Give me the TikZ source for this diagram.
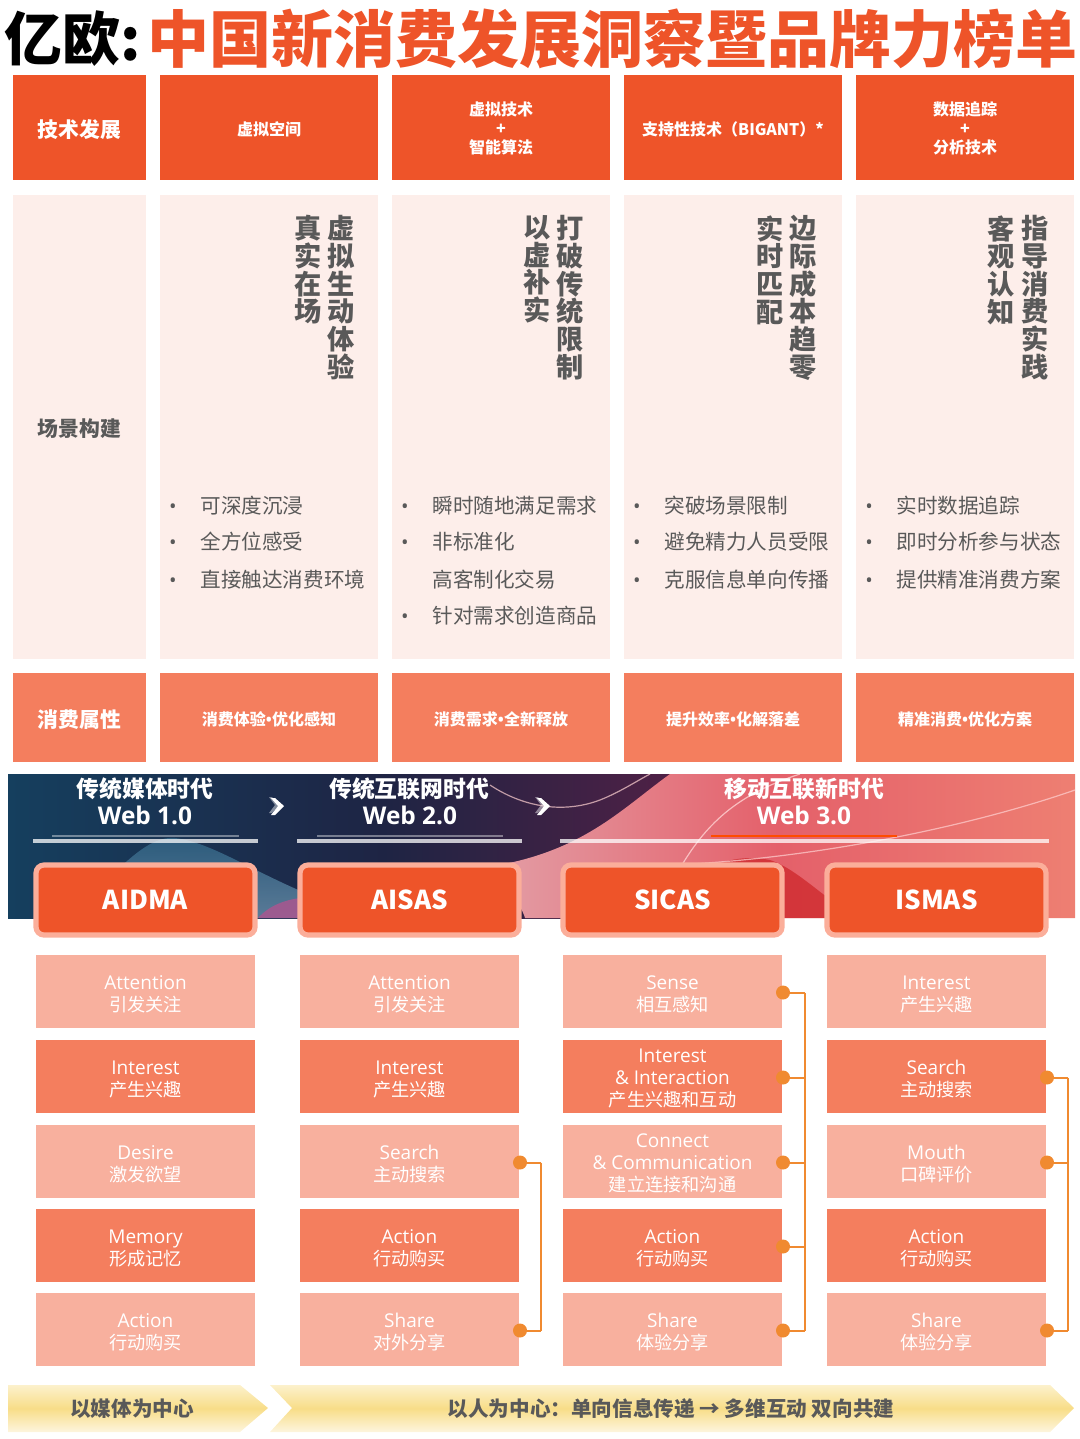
\documentclass[tikz,border=0pt]{standalone}
\usepackage{fontspec}
\setmainfont{Noto Sans CJK SC}
\newfontfamily\latf{Open Sans}
\usetikzlibrary{calc}
\definecolor{hdr}{HTML}{EE5429}
\definecolor{pale}{HTML}{FDEEEA}
\definecolor{midc}{HTML}{F47E5E}
\definecolor{lite}{HTML}{F8B09E}
\definecolor{halo}{HTML}{FBAE9A}
\definecolor{grayt}{HTML}{595959}
\definecolor{conn}{HTML}{F08A30}
\definecolor{navy}{HTML}{153F5E}
\definecolor{inky}{HTML}{1E2444}
\definecolor{plum}{HTML}{5E1F45}
\definecolor{rosea}{HTML}{E3A0A8}
\definecolor{roseb}{HTML}{E4606A}
\definecolor{rosec}{HTML}{EE7F72}
\definecolor{hilla}{HTML}{2F6485}
\definecolor{hillb}{HTML}{6A8FAB}
\definecolor{hillc}{HTML}{A9568F}
\definecolor{ribt}{HTML}{FCF1CC}
\definecolor{ribm}{HTML}{F8DD88}
\definecolor{ribb}{HTML}{FDF5DE}
\newcommand{\fsz}[1]{\fontsize{#1}{#1}\selectfont}
\newcommand{\stk}[2]{\fontsize{#1}{#2}\selectfont}
\newcommand{\dnb}{\rule{0pt}{10.7pt}}
\newcommand{\dns}{\rule{0pt}{8.5pt}}
\newcommand{\mdot}{{\latf •}}
\tikzset{
  x=0.5pt,y=-0.5pt,
  cell/.style={inner sep=0,outer sep=0,text=white,align=center,anchor=north west},
  hdrbox/.style={cell,fill=hdr,font=\bfseries\stk{8}{9.6}},
  hdrbig/.style={hdrbox,font=\bfseries\fsz{10.4}},
  palebox/.style={cell,fill=pale,text=grayt,font=\bfseries\fsz{10.4}},
  midbox/.style={cell,fill=midc,font=\bfseries\fsz{8}},
  midbig/.style={midbox,font=\bfseries\fsz{10.4}},
  vtxt/.style={inner sep=0,text=grayt,anchor=north,align=center,font=\bfseries\stk{13.6}{13.85}},
  bul/.style={inner sep=0,anchor=west,text=grayt,font=\fsz{10.3}},
  bulc/.style={inner sep=0,anchor=center,text=grayt,font=\latf\fsz{10},yshift=-1.4pt},
  era/.style={inner sep=0,text=white,font=\bfseries\fsz{11.4}},
  web/.style={inner sep=0,text=white,font=\bfseries\latf\fsz{12.2}},
  model/.style={cell,fill=hdr,rounded corners=4pt,draw=halo,line width=2.6pt,font=\bfseries\fsz{13}},
  stepl/.style={cell,fill=lite,font=\stk{9.1}{11}},
  stepd/.style={cell,fill=midc,font=\stk{9.1}{11}},
  dot/.style={circle,fill=conn,inner sep=0,minimum size=7pt},
  link/.style={draw=conn,line width=1pt},
  ribbon/.style={top color=ribt,bottom color=ribb,middle color=ribm},
  chevt/.style={inner sep=0,text=grayt,font=\bfseries\fsz{10.3}},
}
\newcommand{\bx}[7]{\node[#1,minimum width=#4*0.5pt,minimum height=#5*0.5pt] (#2) at (#6,#7) {#3};}
\newcommand{\lat}[1]{{\latf\fontsize{9.5}{11}\selectfont #1}}
\newcommand{\sta}[2]{\rule{0pt}{9.7pt}\lat{#1}\\#2}
\newcommand{\stb}[3]{\rule{0pt}{9pt}\lat{#1}\\\lat{#2}\\#3}
\begin{document}
\begin{tikzpicture}
\useasboundingbox (0,0) rectangle (1080,1439);
% title
\node[inner sep=0,anchor=west,text=black,font=\bfseries\fsz{29}] (t1) at (4,39) {亿欧:};
\node[inner sep=0,anchor=east,text=hdr,font=\bfseries\fsz{31}] (t2) at (1078,39) {中国新消费发展洞察暨品牌力榜单};
% table row 1
\bx{hdrbig}{a0}{\dnb 技术发展}{133}{105}{13}{75}
\bx{hdrbox}{a1}{\dns 虚拟空间}{218}{105}{160}{75}
\bx{hdrbox}{a2}{\rule{0pt}{8pt}虚拟技术\\+\\智能算法}{218}{105}{392}{75}
\bx{hdrbox}{a3}{\dns 支持性技术（BIGANT）*}{218}{105}{624}{75}
\bx{hdrbox}{a4}{\rule{0pt}{8pt}数据追踪\\+\\分析技术}{218}{105}{856}{75}
% row 2
\bx{palebox}{b0}{\dnb 场景构建}{133}{464}{13}{195}
\fill[pale] (160,195) rectangle (378,659);
\fill[pale] (392,195) rectangle (610,659);
\fill[pale] (624,195) rectangle (842,659);
\fill[pale] (856,195) rectangle (1074,659);
\node[vtxt] (v1a) at (341,215) {虚\\拟\\生\\动\\体\\验};
\node[vtxt] (v1b) at (308,215) {真\\实\\在\\场};
\node[vtxt] (v2a) at (570,215) {打\\破\\传\\统\\限\\制};
\node[vtxt] (v2b) at (537,215) {以\\虚\\补\\实};
\node[vtxt] (v3a) at (803,215) {边\\际\\成\\本\\趋\\零};
\node[vtxt] (v3b) at (770,215) {实\\时\\匹\\配};
\node[vtxt] (v4a) at (1035,215) {指\\导\\消\\费\\实\\践};
\node[vtxt] (v4b) at (1001,215) {客\\观\\认\\知};
\foreach \bxx/\txx/\nm/\aa/\bb/\cc in {173/200/p/可深度沉浸/全方位感受/直接触达消费环境,405/432/q/瞬时随地满足需求/非标准化/高客制化交易,637/664/r/突破场景限制/避免精力人员受限/克服信息单向传播,869/896/s/实时数据追踪/即时分析参与状态/提供精准消费方案}{
  \node[bul] (\nm t1) at (\txx,506) {\aa};
  \node[bul] (\nm t2) at (\txx,542) {\bb};
  \node[bul] (\nm t3) at (\txx,580) {\cc};
  \node[bulc] (\nm b1) at (\bxx,506) {•};
  \node[bulc] (\nm b2) at (\bxx,542) {•};
}
\node[bulc] (pb3) at (173,580) {•};
\node[bulc] (rb3) at (637,580) {•};
\node[bulc] (sb3) at (869,580) {•};
\node[bul] (qt4) at (432,616) {针对需求创造商品};
\node[bulc] (qb4) at (405,616) {•};
% row 3
\bx{midbig}{c0}{\dnb 消费属性}{133}{89}{13}{673}
\bx{midbox}{c1}{\dns 消费体验\mdot{}优化感知}{218}{89}{160}{673}
\bx{midbox}{c2}{\dns 消费需求\mdot{}全新释放}{218}{89}{392}{673}
\bx{midbox}{c3}{\dns 提升效率\mdot{}化解落差}{218}{89}{624}{673}
\bx{midbox}{c4}{\dns 精准消费\mdot{}优化方案}{218}{89}{856}{673}
% banner
\begin{scope}
\clip (8,774) rectangle (1075,918);
\shade[left color=navy,right color=plum,middle color=inky] (8,774) rectangle (760,918);
\shade[top color=hilla,bottom color=hillb,opacity=.8] (60,918) .. controls (110,885) and (140,835) .. (175,838) .. controls (210,842) and (250,870) .. (310,895) -- (310,918) -- cycle;
\fill[hillc,opacity=.85] (258,918) .. controls (270,905) and (285,900) .. (300,898) -- (310,918) -- cycle;
\shade[left color=rosea,right color=rosec,middle color=roseb] (670,774) .. controls (620,810) and (580,855) .. (480,868) .. controls (500,885) and (520,900) .. (525,918) -- (1075,918) -- (1075,774) -- cycle;
\fill[red!75!black,opacity=.45] (650,918) .. controls (680,880) and (720,850) .. (770,860) .. controls (800,870) and (830,905) .. (860,918) -- cycle;
\draw[pink!70!white,line width=.6pt,opacity=.7] (490,785) .. controls (520,805) and (560,815) .. (600,800) .. controls (620,792) and (635,782) .. (650,774);
\draw[pink!70!white,line width=.6pt,opacity=.8] (655,918) .. controls (690,840) and (720,800) .. (800,774);
\draw[pink!70!white,line width=.6pt,opacity=.7] (670,865) .. controls (800,860) and (960,830) .. (1075,790);
\end{scope}
\node[era] (e1) at (145,789) {传统媒体时代};
\node[web] (w1) at (145,815) {Web 1.0};
\node[era] (e2) at (409,789) {传统互联网时代};
\node[web] (w2) at (410,815) {Web 2.0};
\node[era] (e3) at (804,789) {移动互联新时代};
\node[web] (w3) at (804,815) {Web 3.0};
\draw[white,opacity=.4,line width=.8pt] (52,836) -- (239,836);
\draw[white,opacity=.4,line width=.8pt] (317,836) -- (503,836);
\draw[orange!60!red,line width=.8pt] (711,836) -- (897,836);
\draw[white,opacity=.75,line width=1.6pt] (33,841) -- (258,841);
\draw[white,opacity=.75,line width=1.6pt] (297,841) -- (522,841);
\draw[white,opacity=.75,line width=1.6pt] (560,841) -- (1049,841);
\foreach \cx in {276,542}{
  \fill[white,opacity=.45] (\cx-7,797) -- (\cx-1,805) -- (\cx-7,813) -- (\cx-4,813) -- (\cx+3,805) -- (\cx-4,797) -- cycle;
  \fill[white] (\cx-5,798) -- (\cx+2,806) -- (\cx-5,815) -- (\cx-1,815) -- (\cx+8,806) -- (\cx-1,798) -- cycle;
}
\bx{model}{m1}{AIDMA}{219}{70}{36}{865}
\bx{model}{m2}{AISAS}{219}{70}{300}{865}
\bx{model}{m3}{SICAS}{219}{70}{563}{865}
\bx{model}{m4}{ISMAS}{219}{70}{827}{865}
% steps
\bx{stepl}{s11}{\sta{Attention}{引发关注}}{219}{73}{36}{955}
\bx{stepd}{s12}{\sta{Interest}{产生兴趣}}{219}{73}{36}{1040}
\bx{stepl}{s13}{\sta{Desire}{激发欲望}}{219}{73}{36}{1125}
\bx{stepd}{s14}{\sta{Memory}{形成记忆}}{219}{73}{36}{1209}
\bx{stepl}{s15}{\sta{Action}{行动购买}}{219}{73}{36}{1293}
\bx{stepl}{s21}{\sta{Attention}{引发关注}}{219}{73}{300}{955}
\bx{stepd}{s22}{\sta{Interest}{产生兴趣}}{219}{73}{300}{1040}
\bx{stepl}{s23}{\sta{Search}{主动搜索}}{219}{73}{300}{1125}
\bx{stepd}{s24}{\sta{Action}{行动购买}}{219}{73}{300}{1209}
\bx{stepl}{s25}{\sta{Share}{对外分享}}{219}{73}{300}{1293}
\bx{stepl}{s31}{\sta{Sense}{相互感知}}{219}{73}{563}{955}
\bx{stepd}{s32}{\stb{Interest}{\& Interaction}{产生兴趣和互动}}{219}{73}{563}{1040}
\bx{stepl}{s33}{\stb{Connect}{\& Communication}{建立连接和沟通}}{219}{73}{563}{1125}
\bx{stepd}{s34}{\sta{Action}{行动购买}}{219}{73}{563}{1209}
\bx{stepl}{s35}{\sta{Share}{体验分享}}{219}{73}{563}{1293}
\bx{stepl}{s41}{\sta{Interest}{产生兴趣}}{219}{73}{827}{955}
\bx{stepd}{s42}{\sta{Search}{主动搜索}}{219}{73}{827}{1040}
\bx{stepl}{s43}{\sta{Mouth}{口碑评价}}{219}{73}{827}{1125}
\bx{stepd}{s44}{\sta{Action}{行动购买}}{219}{73}{827}{1209}
\bx{stepl}{s45}{\sta{Share}{体验分享}}{219}{73}{827}{1293}
% connectors
\coordinate (tr2) at (541,1000);
\coordinate (tr3) at (805,1000);
\coordinate (tr4) at (1068,1000);
\foreach \bname/\tr in {s23/tr2,s25/tr2,s31/tr3,s32/tr3,s33/tr3,s34/tr3,s35/tr3,s42/tr4,s43/tr4,s45/tr4}{
  \node[dot] (d\bname) at ($(\bname.east)+(1,1)$) {};
  \draw[link] (d\bname.center) -- (d\bname.center -| \tr);
}
\draw[link] (ds23.center -| tr2) -- (ds25.center -| tr2);
\draw[link] (ds31.center -| tr3) -- (ds35.center -| tr3);
\draw[link] (ds42.center -| tr4) -- (ds45.center -| tr4);
% bottom chevrons
\shade[ribbon] (8,1385) -- (240,1385) -- (268,1408) -- (240,1432) -- (8,1432) -- cycle;
\shade[ribbon] (270,1385) -- (1050,1385) -- (1074,1408) -- (1050,1432) -- (270,1432) -- (292,1408) -- cycle;
\node[chevt] (k1) at (132,1409) {以媒体为中心};
\node[chevt] (k2) at (671,1409) {以人为中心：单向信息传递 → 多维互动 双向共建};
\end{tikzpicture}
\end{document}
